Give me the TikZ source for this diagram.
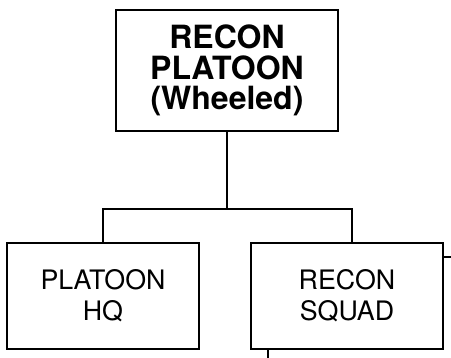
\documentclass[tikz,border=0pt]{standalone}
\usepackage{fontspec}
\setmainfont{TeX Gyre Heros}
\begin{document}
\begin{tikzpicture}[x=1pt,y=-1pt,line width=1.3pt,
  box/.style={draw,line width=1.3pt,inner sep=0pt,align=center},
  topbox/.style={box,minimum width=222pt,minimum height=121pt,
    font=\bfseries\fontsize{32}{30.7}\selectfont},
  subbox/.style={box,minimum width=192pt,minimum height=106pt,
    font=\fontsize{26.8}{31}\selectfont},
  link/.style={draw,line width=1.3pt}]
\useasboundingbox (0,0) rectangle (451,358);
\node[topbox] (top) at (227,70.5) {RECON\\PLATOON\\(Wheeled)};
\node[subbox] (hq) at (103,296) {PLATOON\\HQ};
\node[subbox] (squad) at (347,296) {RECON\\SQUAD};
\coordinate (j) at (227,209);
\coordinate (re) at (451,257);
\coordinate (be) at (268,358);
\path[link] (top.south) -- (j);
\path[link] (hq.north) |- (j) -| ([xshift=5pt]squad.north);
\path[link] (squad.east |- re) -- (re);
\path[link] (squad.south -| be) -- (be);
\end{tikzpicture}
\end{document}
